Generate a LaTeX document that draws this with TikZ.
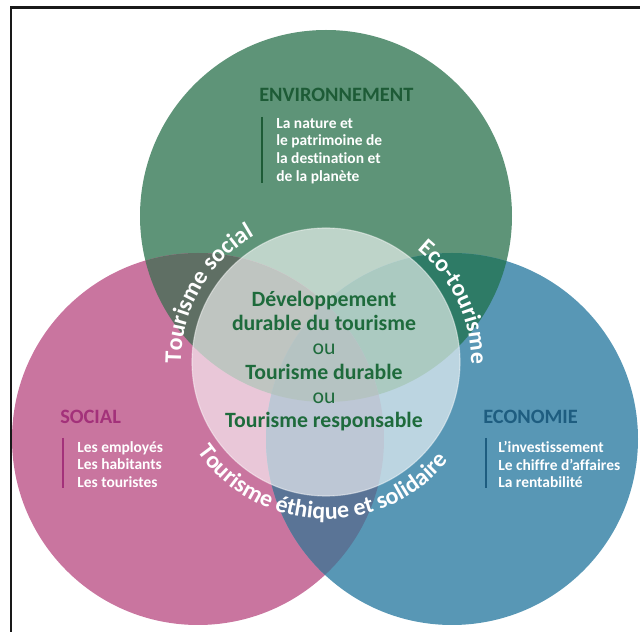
\documentclass[tikz,border=0pt]{standalone}
\usepackage{fontspec}
\setmainfont{Carlito}[Ligatures=NoCommon]
\usepackage{tikz}
\usetikzlibrary{decorations.text}

\definecolor{envgreen}{HTML}{5E9478}
\definecolor{socpink}{HTML}{C9759F}
\definecolor{ecoblue}{HTML}{5897B5}
\definecolor{envsoc}{HTML}{5F6F64}
\definecolor{enveco}{HTML}{2E7B66}
\definecolor{soceco}{HTML}{5A7496}
\definecolor{allthree}{HTML}{486A68}
\definecolor{envdark}{HTML}{1D5B36}
\definecolor{socdark}{HTML}{A3317A}
\definecolor{ecodark}{HTML}{1E5D80}
\definecolor{middark}{HTML}{1E6B3C}

\begin{document}
\begin{tikzpicture}[x=0.025cm, y=0.025cm,
    headtxt/.style={anchor=west, inner sep=0, font=\fontsize{14.5}{15}\selectfont\bfseries},
    listtxt/.style={anchor=north west, inner sep=0, align=left, text=white, font=\fontsize{11}{12.5}\selectfont\bfseries},
    barline/.style={line width=1.2pt},
    curved/.style={decorate, decoration={text along path, text align=center, text color=white}}]

  \useasboundingbox (0,0) rectangle (640,632);

  % frame
  \draw[line width=2pt, black!90] (11,0) -- (11,624.5) -- (640,624.5);

  % the three circles
  \coordinate (env) at (326,416);
  \coordinate (soc) at (198,193);
  \coordinate (eco) at (452,193);
  \coordinate (mid) at (326,270);

  \fill[envgreen] (env) circle (186);
  \fill[socpink] (soc) circle (186);
  \fill[ecoblue] (eco) circle (186);

  \begin{scope}
    \clip (env) circle (186);
    \fill[envsoc] (soc) circle (186);
    \fill[enveco] (eco) circle (186);
  \end{scope}
  \begin{scope}
    \clip (soc) circle (186);
    \fill[soceco] (eco) circle (186);
    \clip (env) circle (186);
    \fill[allthree] (eco) circle (186);
  \end{scope}

  % middle circle
  \fill[white, opacity=0.6] (mid) circle (134);
  \draw[white, opacity=0.45, line width=0.8pt] (mid) circle (134);

  % curved labels
  \path[curved, decoration={text={|\fontsize{17}{17}\selectfont\bfseries|Tourisme social}}, shift={(mid)}]
    (205:145) arc[start angle=205, end angle=95, radius=145];
  \path[curved, decoration={text={|\fontsize{17}{17}\selectfont\bfseries|Eco-tourisme}}, shift={(mid)}]
    (80:145) arc[start angle=80, end angle=-30, radius=145];
  \path[curved, decoration={text={|\fontsize{17}{17}\selectfont\bfseries|Tourisme éthique et solidaire}}, shift={(mid)}]
    (193:157) arc[start angle=193, end angle=343, radius=157];

  % middle text
  \node[align=center, text=middark, font=\fontsize{15.5}{17.3}\selectfont\bfseries] (midtxt) at (324,271)
    {Développement\\durable du tourisme\\{\mdseries ou}\\Tourisme durable\\{\mdseries ou}\\Tourisme responsable};

  \begin{scope}[shift={(259,0)}]
    \node[headtxt, text=envdark] (envtitle) at (0,537) {ENVIRONNEMENT};
    \draw[barline, envdark] (3,515) -- (3,449);
    \node[listtxt] (envlist) at (17,514) {La nature et\\le patrimoine de\\la destination et\\de la planète};
  \end{scope}

  \begin{scope}[shift={(60,0)}]
    \node[headtxt, text=socdark] (soctitle) at (0,215) {SOCIAL};
    \draw[barline, socdark] (3,194) -- (3,144);
    \node[listtxt] (soclist) at (17,191) {Les employés\\Les habitants\\Les touristes};
  \end{scope}

  \begin{scope}[shift={(483,0)}]
    \node[headtxt, text=ecodark] (ecotitle) at (0,215) {ECONOMIE};
    \draw[barline, ecodark] (3,194) -- (3,144);
    \node[listtxt] (ecolist) at (15,191) {L’investissement\\Le chiffre d’affaires\\La rentabilité};
  \end{scope}

\end{tikzpicture}
\end{document}
